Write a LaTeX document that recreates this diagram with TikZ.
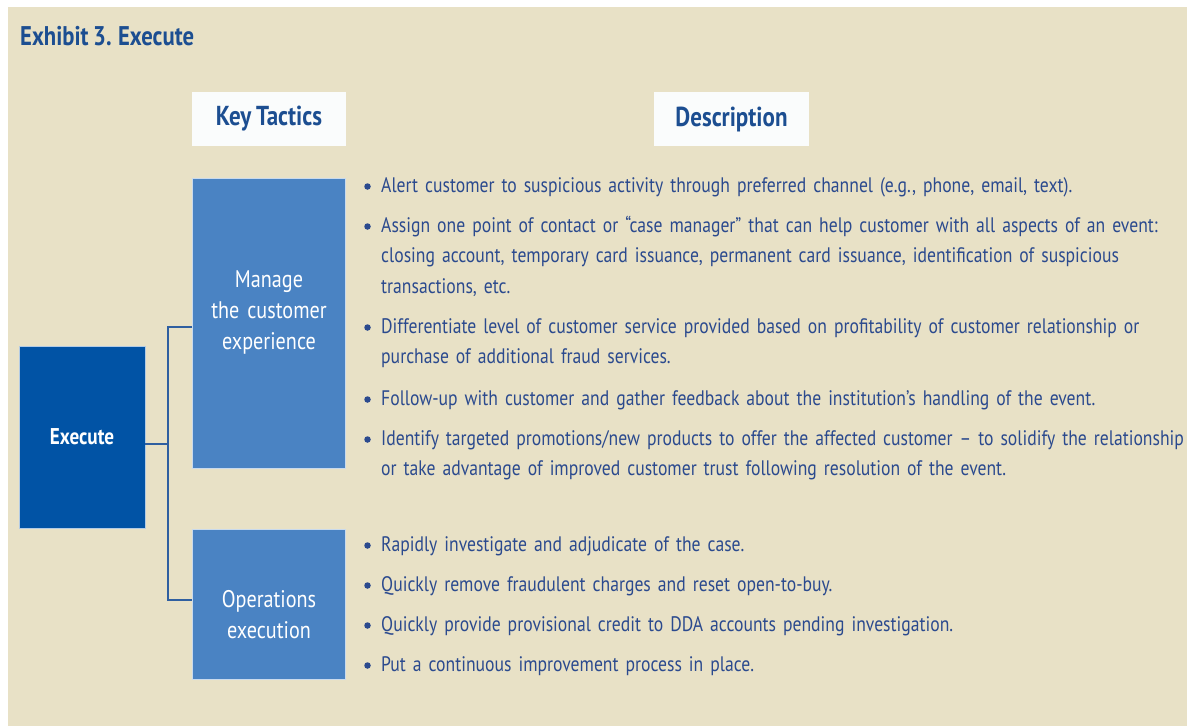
\documentclass[tikz,border=0pt]{standalone}
\usepackage{fontspec}
\setmainfont{PT Sans}[FakeStretch=0.84]
\usetikzlibrary{positioning,calc}
\definecolor{exbg}{HTML}{E8E1C6}
\definecolor{exdark}{HTML}{0153A5}
\definecolor{exmid}{HTML}{4A83C3}
\definecolor{extext}{HTML}{2B4A8E}
\definecolor{extitle}{HTML}{1C4E91}
\definecolor{exline}{HTML}{2F5FA0}
\definecolor{exwhite}{HTML}{FAFCFC}

% size, baselineskip, with tight word spaces
\newcommand{\exfont}[2]{\fontsize{#1}{#2}\selectfont\spaceskip=0.17em plus 0.05em\relax}
% one bullet point: name, baseline y, text
\newcommand{\bitem}[3]{%
  \node[dot] (#1d) at (367.5,#2-5.5) {};
  \node[desc,anchor=base west] (#1) at (381,#2) {#3};}

\begin{document}
\begin{tikzpicture}[x=1pt,y=-1pt,
  font=\exfont{21}{30.7},
  execbox/.style={draw=white!70!exdark,line width=0.8pt,fill=exdark,text=white,
                  minimum width=126pt,minimum height=182pt,inner sep=0pt,
                  font=\exfont{22.8}{30}\bfseries},
  tactic/.style={draw=white!70!exmid,line width=0.8pt,fill=exmid,
                 minimum width=153pt,inner sep=0pt},
  tactictext/.style={text=white,align=center,text width=150pt,inner sep=0pt,
                     font=\exfont{24}{31}},
  hdr/.style={fill=exwhite,text=extitle,minimum height=54pt,inner sep=0pt,
              font=\exfont{27.4}{30}\bfseries},
  desc/.style={text=extext,align=left,text width=900pt,inner sep=0pt},
  dot/.style={circle,fill=extext,minimum size=6.5pt,inner sep=0pt},
  conn/.style={draw=exline,line width=1.6pt}]

  \useasboundingbox (0,0) rectangle (1187,726);
  \fill[white] (0,0) rectangle (1187,726);
  \fill[exbg] (8,7) rectangle (1187,726);

  \node[text=extitle,anchor=base west,inner sep=0pt,
        font=\exfont{27}{30}\bfseries] (ttl) at (20,45) {Exhibit 3. Execute};

  \node[hdr,minimum width=154pt] (kt) at (269,119) {Key Tactics};
  \node[hdr,minimum width=155pt] (dsc) at (731.5,119) {Description};

  \node[execbox] (ex) at (82,437) {Execute};
  \node[tactic,minimum height=290pt] (mce) at (269,323) {};
  \node[tactic,minimum height=150pt] (ops) at (269,604) {};
  \node[tactictext,anchor=base] (mcet) at (269,287) {Manage\\the customer\\experience};
  \node[tactictext,anchor=base] (opst) at (269,607) {Operations\\execution};

  \coordinate (jn) at (168,444);
  \coordinate (br1) at (168,327);
  \coordinate (br2) at (168,600);
  \draw[conn] (ex.east |- jn) -- (jn);
  \draw[conn] (mce.west |- br1) -- (br1) -- (br2) -- (ops.west |- br2);

  \bitem{m1}{192}{Alert customer to suspicious activity through preferred channel (e.g., phone, email, text).}
  \bitem{m2}{232}{Assign one point of contact or “case manager” that can help customer with all aspects of an event:\\
    closing account, temporary card issuance, permanent card issuance, identification of suspicious\\
    transactions, etc.}
  \bitem{m3}{333}{Differentiate level of customer service provided based on profitability of customer relationship or\\
    purchase of additional fraud services.}
  \bitem{m4}{405}{Follow-up with customer and gather feedback about the institution’s handling of the event.}
  \bitem{m5}{445}{Identify targeted promotions/new products to offer the affected customer – to solidify the relationship\\
    or take advantage of improved customer trust following resolution of the event.}

  \bitem{o1}{551}{Rapidly investigate and adjudicate of the case.}
  \bitem{o2}{591}{Quickly remove fraudulent charges and reset open-to-buy.}
  \bitem{o3}{631}{Quickly provide provisional credit to DDA accounts pending investigation.}
  \bitem{o4}{671}{Put a continuous improvement process in place.}
\end{tikzpicture}
\end{document}
